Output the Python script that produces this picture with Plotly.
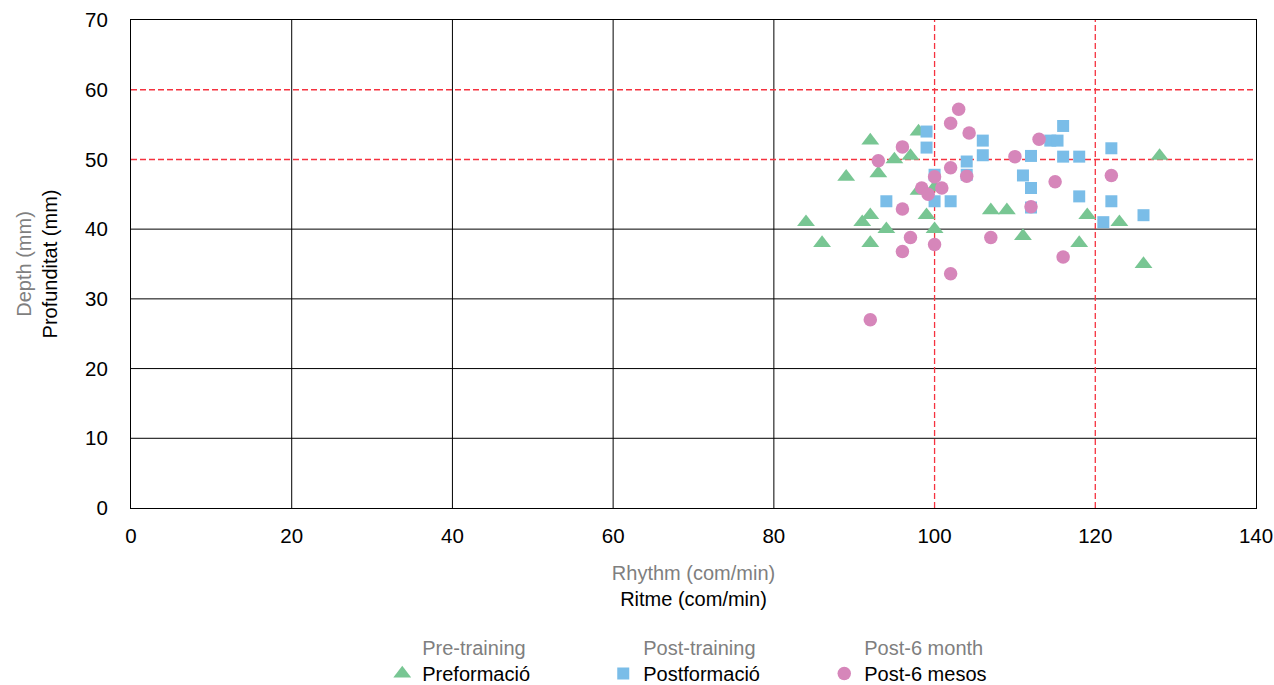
import plotly.graph_objects as go

# Data
pre_x = [92, 98, 95, 97, 89, 93, 98, 100, 92, 99, 84, 91, 94, 100, 86, 92, 107, 109, 111, 119, 123, 118, 126, 128]
pre_y = [52.7, 54, 50, 50.5, 47.5, 48, 45.5, 46, 42, 42, 41, 41, 40, 40, 38, 38, 42.7, 42.7, 39, 42, 41, 38, 35, 50.5]

post_x = [99, 99, 100, 94, 100, 102, 104, 104, 106, 106, 116, 114.4, 115.3, 112, 116, 118, 122, 111, 112, 112, 118, 122, 121, 126]
post_y = [54, 51.7, 47.8, 44, 44, 44, 49.7, 47.8, 52.7, 50.6, 54.8, 52.7, 52.7, 50.5, 50.4, 50.4, 51.6, 47.7, 45.9, 43.1, 44.7, 44, 41, 42]

m6_x = [103, 102, 104.3, 96, 93, 102, 104, 100, 98.4, 99.2, 100.9, 96, 97, 100, 96, 102, 92, 107, 113, 110, 115, 112, 122, 116]
m6_y = [57.2, 55.2, 53.8, 51.8, 49.8, 48.8, 47.6, 47.5, 45.9, 45, 45.9, 42.9, 38.8, 37.8, 36.8, 33.6, 27, 38.8, 52.9, 50.4, 46.8, 43.2, 47.7, 36]

x_ticks = [0, 20, 40, 60, 80, 100, 120, 140]
y_ticks = [0, 10, 20, 30, 40, 50, 60, 70]
ref_x = [100, 120]
ref_y = [50, 60]
grid_x = [20, 40, 60, 80]
grid_y = [10, 20, 30, 40]

GRAY = "#7f7f7f"
FONT = "Liberation Sans, Arial, sans-serif"
FS = 20
LEG_FS = 20
TICK_FS = 20.5
RED = "#F5323F"

def name(en, ca):
    return f"<span style='color:{GRAY}'>{en}</span><br><span style='color:#000'>{ca}</span>"

fig = go.Figure()
fig.add_trace(go.Scatter(x=pre_x, y=pre_y, mode="markers", name=name("Pre-training", "Preformació"),
                         marker=dict(symbol="triangle-up", size=15.5, color="#78C693")))
fig.add_trace(go.Scatter(x=post_x, y=post_y, mode="markers", name=name("Post-training", "Postformació"),
                         marker=dict(symbol="square", size=12, color="#7ABDE8")))
fig.add_trace(go.Scatter(x=m6_x, y=m6_y, mode="markers", name=name("Post-6 month", "Post-6 mesos"),
                         marker=dict(symbol="circle", size=13.5, color="#D686BA")))

shapes = []
for gx in grid_x:
    shapes.append(dict(type="line", xref="x", yref="y", x0=gx, x1=gx, y0=0, y1=70,
                       line=dict(color="#000", width=1), layer="below"))
for gy in grid_y:
    shapes.append(dict(type="line", xref="x", yref="y", x0=0, x1=140, y0=gy, y1=gy,
                       line=dict(color="#000", width=1), layer="below"))
for rx in ref_x:
    shapes.append(dict(type="line", xref="x", yref="y", x0=rx, x1=rx, y0=0, y1=70,
                       line=dict(color=RED, width=1.3, dash="6px,3px"), layer="below"))
for ry in ref_y:
    shapes.append(dict(type="line", xref="x", yref="y", x0=0, x1=140, y0=ry, y1=ry,
                       line=dict(color=RED, width=1.6, dash="6px,3px"), layer="below"))

fig.update_layout(
    width=1274, height=685,
    margin=dict(l=131, r=18, t=20, b=177, autoexpand=False),
    paper_bgcolor="white", plot_bgcolor="white",
    font=dict(family=FONT, size=FS, color="#000"),
    shapes=shapes,
    showlegend=True,
    legend=dict(orientation="h", x=0.518, xanchor="center", y=-0.246, yanchor="top",
                font=dict(size=LEG_FS), entrywidth=176, valign="bottom"),
    xaxis=dict(range=[0, 140], tickvals=x_ticks, showgrid=False, zeroline=False,
               showline=True, linecolor="#000", linewidth=1, mirror=True,
               ticks="", ticklabelstandoff=9, tickfont=dict(size=TICK_FS),
               ticklabeloverflow="allow",
               title=dict(text=name("Rhythm (com/min)", "Ritme (com/min)"), standoff=20,
                          font=dict(size=FS))),
    yaxis=dict(range=[0, 70], tickvals=y_ticks, showgrid=False, zeroline=False,
               showline=True, linecolor="#000", linewidth=1, mirror=True,
               ticks="", ticklabelstandoff=18, tickfont=dict(size=TICK_FS),
               ticklabeloverflow="allow",
               title=dict(text=name("Depth (mm)", "Profunditat (mm)"), standoff=22,
                          font=dict(size=FS))),
)

# remove the page's default body margin so the figure fills the window exactly
fig.write_html("out.html", config={"displayModeBar": False},
               post_script="document.body.style.margin='0';document.body.style.overflow='hidden';")
